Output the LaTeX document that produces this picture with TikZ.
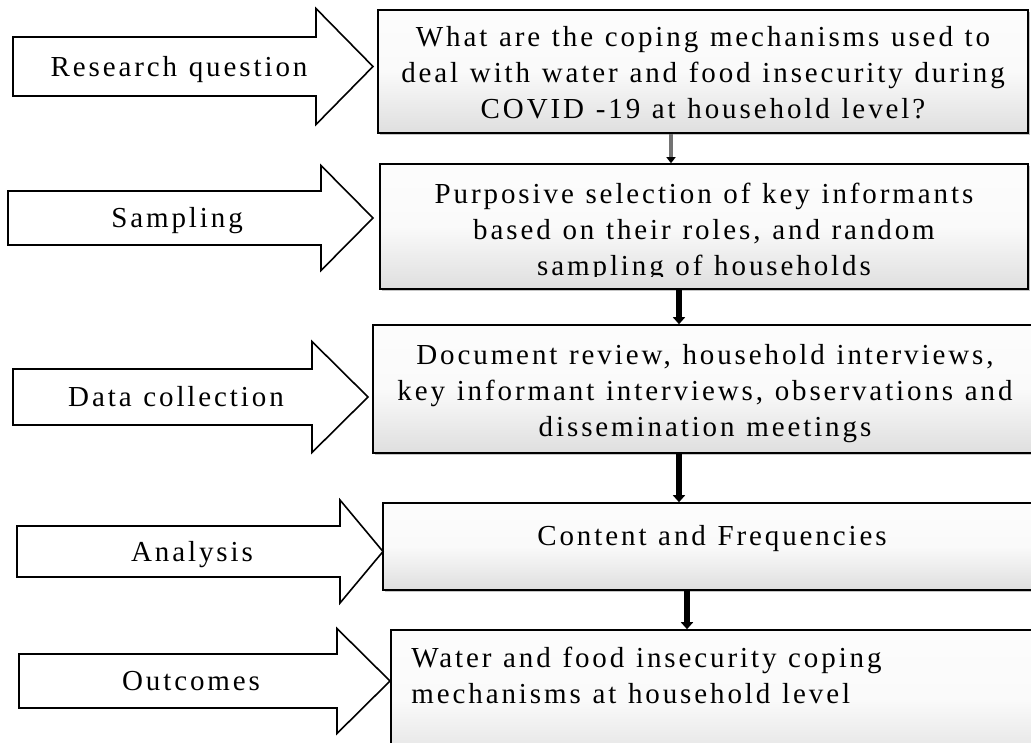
\documentclass[tikz,border=0pt]{standalone}
\usepackage{fontspec}
\setmainfont{Liberation Serif}[LetterSpace=10,WordSpace=1.15]
\usepackage{tikz}
\usetikzlibrary{arrows.meta,positioning,shadows}

\pgfdeclareverticalshading{boxfade}{100bp}{color(0bp)=(black!30); color(22bp)=(black!14); color(50bp)=(black!2); color(100bp)=(white)}

\begin{document}
\begin{tikzpicture}[x=1pt,y=-1pt,
  stage/.style={draw=black,line width=1.6pt,shade,shading=boxfade,
    drop shadow={shadow xshift=2pt,shadow yshift=-2pt,fill=black!45}},
  stagetext/.style={inner sep=0pt,align=center,font=\fontsize{29}{36}\selectfont},
  blockarrow/.style={draw=black,line width=1.6pt,fill=white,line join=miter},
  armtext/.style={anchor=base,inner sep=0pt,font=\fontsize{29}{36}\selectfont},
  flowlink/.style={line width=6pt,-{Triangle[width=12pt,length=7pt]}}]
\useasboundingbox (0,0) rectangle (1031,742);

% boxes on the right
\node (q)    [stage,minimum width=650pt,minimum height=123pt] at (703,71.5) {};
\node (samp) [stage,minimum width=648pt,minimum height=125pt] at (704,226.5) {};
\node (coll) [stage,minimum width=664pt,minimum height=128pt] at (705,389) {};
\node (anal) [stage,minimum width=658pt,minimum height=87pt] at (712,546.5) {};
\node (outc) [stage,minimum width=654pt,minimum height=140pt] at (718,700) {};

\node (qtxt) [stagetext,below=17pt of q.north,anchor=north]
  {What are the coping mechanisms used to\\deal with water and food insecurity during\\COVID -19 at household level?};
\begin{scope}
\clip (samp.north west) rectangle ([yshift=13pt]samp.south east);
\node (samptxt) [stagetext,below=20pt of samp.north,anchor=north]
  {Purposive selection of key informants\\based on their roles, and random\\sampling of households};
\end{scope}
\node (colltxt) [stagetext,below=20pt of coll.north,anchor=north]
  {Document review, household interviews,\\key informant interviews, observations and\\dissemination meetings};
\node (analtxt) [stagetext,below=23pt of anal.north,anchor=north] {Content and Frequencies};
\node (outctxt) [stagetext,align=left,below right=18pt and 21pt of outc.north west,anchor=north west]
  {Water and food insecurity coping\\mechanisms at household level};

% block arrows on the left
\foreach \nm/\xa/\xb/\xc/\yc/\s/\h/\tx/\txt in {
  ask/13/316/373/66.5/29.5/58/179/Research question,
  pick/8/321/373/218/27/52.5/177/Sampling,
  gather/13/312/368/397/28/55.5/176/Data collection,
  study/17/340/383/551.5/25.5/51.5/192/Analysis,
  result/19/337/390/681/27/52.5/191/Outcomes}{
  \draw[blockarrow] (\xa,\yc-\s) -- (\xb,\yc-\s) -- (\xb,\yc-\h) -- (\xc,\yc)
    -- (\xb,\yc+\h) -- (\xb,\yc+\s) -- (\xa,\yc+\s) -- cycle;
  \node (\nm) [armtext] at (\tx,\yc+9.5) {\txt};
}

% links between the boxes
\draw[line width=4pt,black!55,-{Triangle[width=9pt,length=6pt,color=black]}]
  ([xshift=-32pt]q.south) -- ([xshift=-32pt]q.south |- samp.north);
\foreach \a/\b/\dx in {samp/coll/-25,coll/anal/-26,anal/outc/-25}
  \draw[flowlink] ([xshift=\dx pt]\a.south) -- ([xshift=\dx pt]\a.south |- \b.north);
\end{tikzpicture}
\end{document}
